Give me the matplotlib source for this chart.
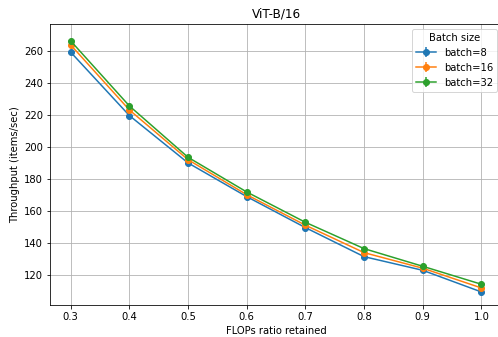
import matplotlib
matplotlib.use("Agg")
import matplotlib.pyplot as plt

# ---------- Data ----------
flops_ratio = [0.3, 0.4, 0.5, 0.6, 0.7, 0.8, 0.9, 1.0]
batch_labels = ["batch=8", "batch=16", "batch=32"]
tput_b8 = [259.0, 219.5, 190.0, 169.0, 149.7, 131.6, 123.1, 109.6]
tput_b16 = [263.5, 223.0, 192.0, 170.2, 151.2, 134.1, 124.4, 112.1]
tput_b32 = [266.0, 225.5, 193.5, 171.9, 153.0, 136.6, 125.6, 114.4]
tput_err = [0.0] * len(flops_ratio)


def main():
    # saved at 72 dpi, default font sizes
    fig = plt.figure(figsize=(498 / 72, 337 / 72), dpi=72)
    ax = fig.add_axes([0.1004, 0.095, 0.908, 0.834])

    for series, label in zip([tput_b8, tput_b16, tput_b32], batch_labels):
        ax.errorbar(flops_ratio, series, yerr=tput_err, marker="o", capsize=0, label=label)

    ax.set_xlim(0.2647, 1.0353)
    ax.set_ylim(101.5, 276.6)
    ax.set_xticks(flops_ratio)
    ax.set_yticks(range(120, 261, 20))
    ax.set_xlabel("FLOPs ratio retained")
    ax.set_ylabel("Throughput (items/sec)")
    ax.set_title("ViT-B/16")
    ax.grid(True)
    ax.legend(title="Batch size", loc="upper right")

    fig.savefig("out.png", dpi=72)


if __name__ == "__main__":
    main()
